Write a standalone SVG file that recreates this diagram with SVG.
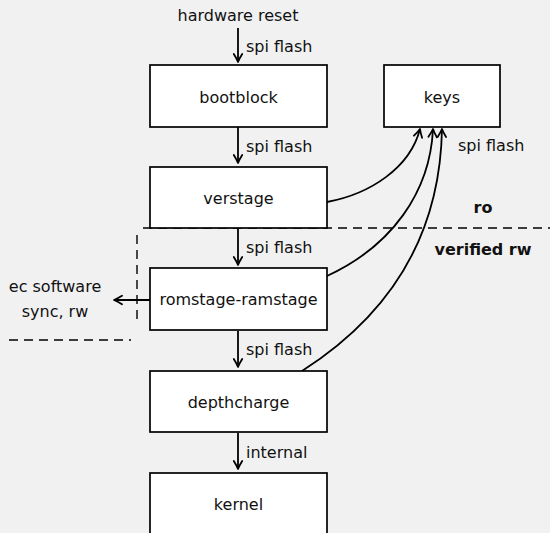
<svg xmlns="http://www.w3.org/2000/svg" width="550" height="533" viewBox="0 0 550 533">
<defs>
<style>
.box{fill:#fff;stroke:#000;stroke-width:1.7}
.t{font-family:"DejaVu Sans",sans-serif;font-size:16px;fill:#111}
.c{text-anchor:middle}
.b{font-weight:bold}
.e{fill:none;stroke:#000;stroke-width:1.8}
.d{fill:none;stroke:#000;stroke-width:1.4;stroke-dasharray:9 6}
</style>
<marker id="arr" viewBox="0 0 12 12" markerWidth="12" markerHeight="12" refX="10.5" refY="6" orient="auto" markerUnits="userSpaceOnUse">
<path d="M2.5,1.8 Q7,4.6 10.5,6 Q7,7.4 2.5,10.2" fill="none" stroke="#000" stroke-width="1.8" stroke-linecap="round" stroke-linejoin="round"/>
</marker>
</defs>
<rect width="550" height="533" fill="#f1f1f1"/>
<g id="connectors">
<path class="e" d="M238,28 V62" marker-end="url(#arr)"/>
<path class="e" d="M238,127 V163" marker-end="url(#arr)"/>
<path class="e" d="M238,229 V265" marker-end="url(#arr)"/>
<path class="e" d="M238,331 V367" marker-end="url(#arr)"/>
<path class="e" d="M238,433 V469" marker-end="url(#arr)"/>
<path class="e" d="M150,300 H114" marker-end="url(#arr)"/>
<path class="e" d="M327,202 C370,194 410,168 420,129" marker-end="url(#arr)"/>
<path class="e" d="M327,276 C392,246 430,192 433,129" marker-end="url(#arr)"/>
<path class="e" d="M302,371 C385,318 440,240 442,129" marker-end="url(#arr)"/>
<text class="t" x="246" y="52">spi flash</text>
<text class="t" x="246" y="152">spi flash</text>
<text class="t" x="246" y="253">spi flash</text>
<text class="t" x="246" y="355">spi flash</text>
<text class="t" x="246" y="458">internal</text>
<text class="t" x="458" y="151">spi flash</text>
</g>
<g id="regions">
<path class="d" d="M143,228 H550"/>
<path class="d" d="M137,235 V325"/>
<path class="d" d="M9,340 H131"/>
<text class="t b c" x="483" y="213">ro</text>
<text class="t b c" x="483" y="255">verified rw</text>
</g>
<g id="hardware-reset"><text class="t c" x="238" y="20.5">hardware reset</text></g>
<g id="bootblock"><rect class="box" x="150" y="65" width="177" height="62"/><text class="t c" x="238.5" y="103">bootblock</text></g>
<g id="keys"><rect class="box" x="384" y="65" width="116" height="62"/><text class="t c" x="442" y="103">keys</text></g>
<g id="verstage"><rect class="box" x="150" y="167" width="177" height="61"/><text class="t c" x="238.5" y="204">verstage</text></g>
<g id="romstage-ramstage"><rect class="box" x="150" y="268" width="177" height="62"/><text class="t c" x="238.5" y="305">romstage-ramstage</text></g>
<g id="ec-software-sync"><text class="t c" x="55" y="292">ec software</text><text class="t c" x="55" y="317">sync, rw</text></g>
<g id="depthcharge"><rect class="box" x="150" y="371" width="177" height="61"/><text class="t c" x="238.5" y="408">depthcharge</text></g>
<g id="kernel"><rect class="box" x="150" y="473" width="177" height="80"/><text class="t c" x="238.5" y="510">kernel</text></g>
</svg>
